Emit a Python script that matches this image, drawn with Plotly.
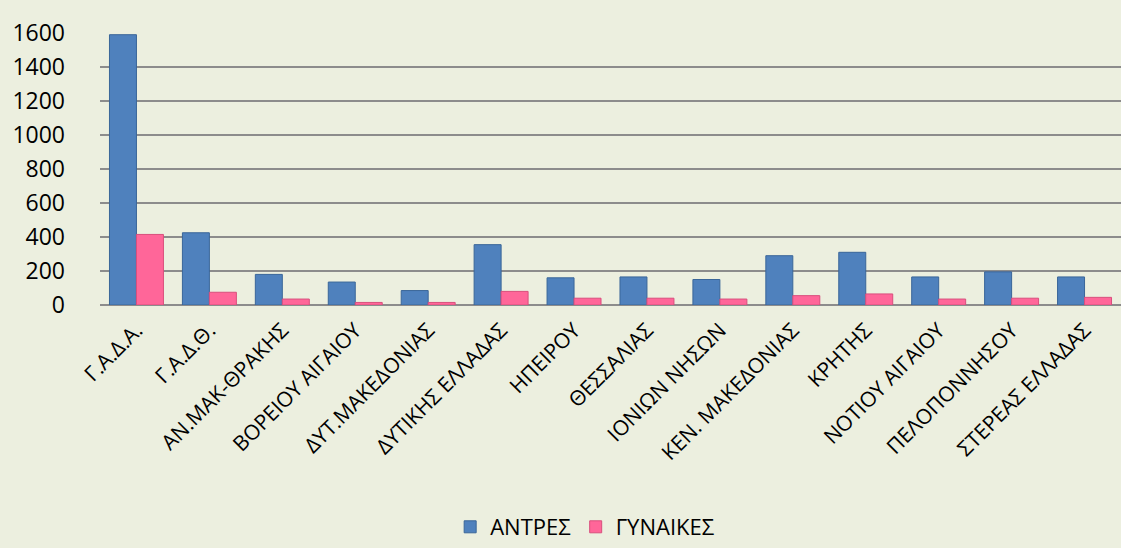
import plotly.graph_objects as go

categories = ["Γ.Α.Δ.Α.", "Γ.Α.Δ.Θ.", "ΑΝ.ΜΑΚ-ΘΡΑΚΗΣ", "ΒΟΡΕΙΟΥ ΑΙΓΑΙΟΥ", "ΔΥΤ.ΜΑΚΕΔΟΝΙΑΣ",
              "ΔΥΤΙΚΗΣ ΕΛΛΑΔΑΣ", "ΗΠΕΙΡΟΥ", "ΘΕΣΣΑΛΙΑΣ", "ΙΟΝΙΩΝ ΝΗΣΩΝ", "ΚΕΝ. ΜΑΚΕΔΟΝΙΑΣ",
              "ΚΡΗΤΗΣ", "ΝΟΤΙΟΥ ΑΙΓΑΙΟΥ", "ΠΕΛΟΠΟΝΝΗΣΟΥ", "ΣΤΕΡΕΑΣ ΕΛΛΑΔΑΣ"]
men = [1590, 425, 180, 135, 85, 355, 160, 165, 150, 290, 310, 165, 195, 165]
women = [415, 75, 35, 15, 15, 80, 40, 40, 35, 55, 65, 35, 40, 45]
y_ticks = [0, 200, 400, 600, 800, 1000, 1200, 1400, 1600]

fig = go.Figure()
fig.add_trace(go.Bar(x=categories, y=men, name="ΑΝΤΡΕΣ",
                     marker=dict(color="#4F81BD", line=dict(color="#3A6699", width=1))))
fig.add_trace(go.Bar(x=categories, y=women, name="ΓΥΝΑΙΚΕΣ",
                     marker=dict(color="#FF6699", line=dict(color="#D94F7D", width=1))))

fig.update_layout(
    width=1121, height=548,
    paper_bgcolor="#ECEFDF", plot_bgcolor="#ECEFDF",
    barmode="group", bargap=0.26, bargroupgap=0.0,
    margin=dict(l=100, r=0, t=33, b=243, autoexpand=False),
    font=dict(family="Open Sans, DejaVu Sans, sans-serif", color="#000000"),
    legend=dict(orientation="h", x=0.522, xanchor="center", xref="container",
                y=-0.012, yanchor="bottom", yref="container",
                font=dict(size=22), traceorder="normal", itemwidth=30),
    showlegend=True,
)
fig.update_yaxes(range=[0, 1600], tickvals=y_ticks, tickfont=dict(size=23),
                 gridcolor="#8C8C8C", gridwidth=2, zeroline=True, zerolinecolor="#8C8C8C",
                 zerolinewidth=2, showline=False, ticks="", ticklen=0, ticklabelstandoff=34)
fig.update_xaxes(tickangle=-45, tickfont=dict(size=21), showgrid=False, ticks="",
                 showline=False, ticklabelstandoff=8)

fig.write_html("out.html", config={"displayModeBar": False},
               post_script="document.body.style.margin='0';document.body.style.background='#ECEFDF';")
